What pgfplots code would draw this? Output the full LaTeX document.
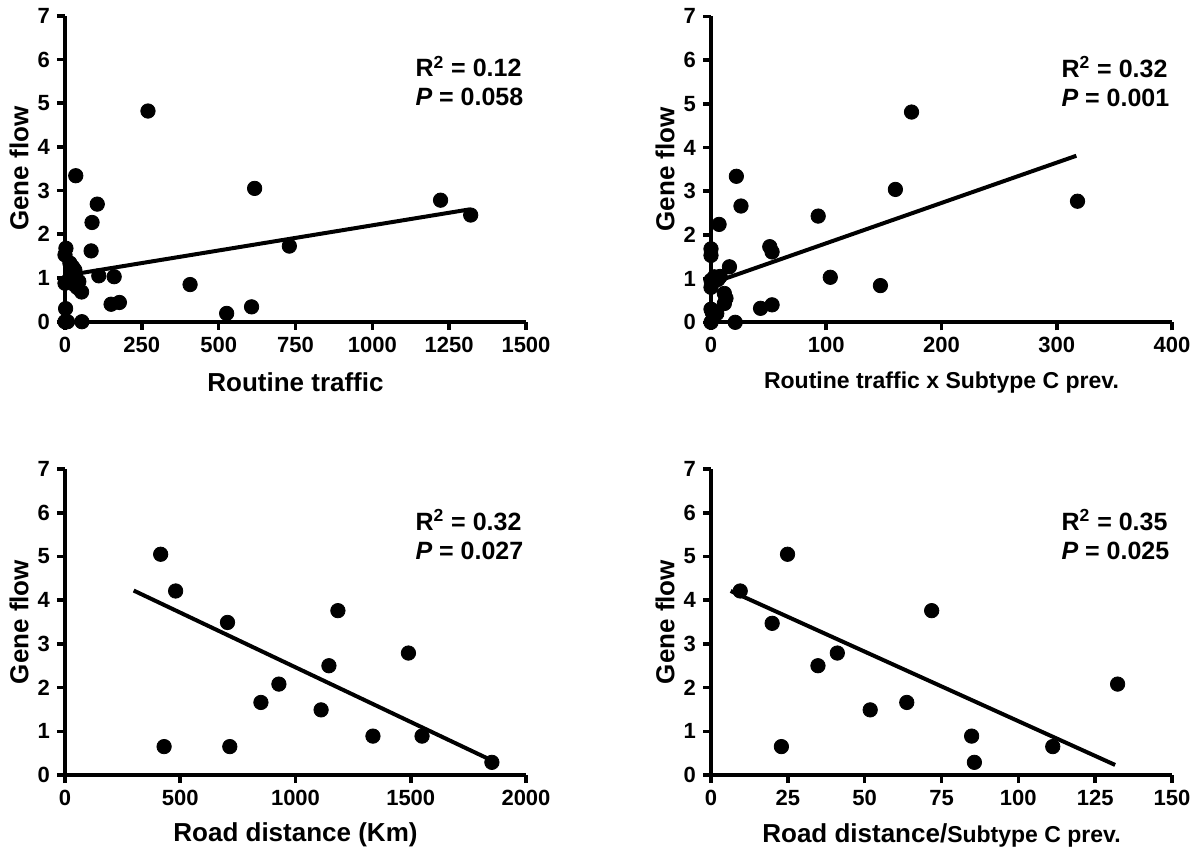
\documentclass[border=0pt]{standalone}
\usepackage{fontspec}
\setmainfont{Liberation Sans}
\usepackage{pgfplots}
\pgfplotsset{compat=1.18}

\newcommand{\lblfont}{\bfseries\fontsize{13}{15}\selectfont}
\newcommand{\smlfont}{\bfseries\fontsize{11.5}{13}\selectfont}

\pgfplotsset{
  gf/.style={
    scale only axis, width=230.5pt, height=153pt,
    anchor=south west,
    axis lines=left, axis line style={-, line width=2pt, black},
    xmin=0, ymin=0, ymax=7, ytick={0,...,7},
    enlargelimits=false, clip=false,
    tick align=outside, major tick length=4pt,
    tick style={line width=1.8pt, black},
    ticklabel style={font=\bfseries\fontsize{11}{12}\selectfont},
    /pgf/number format/assume math mode=true,
    /pgf/number format/1000 sep={},
    scaled ticks=false,
    ylabel={Gene flow},
    every axis y label/.style={at={(axis description cs:0,0.5)}, xshift=-23pt,
      rotate=90, anchor=center, font=\lblfont},
    every axis x label/.style={at={(axis description cs:0.5,0)}, yshift=-30pt,
      anchor=center, font=\lblfont},
  },
  pts/.style={only marks, mark=*, mark size=3.6pt, black},
  fit/.style={no marks, black, line width=2pt},
}

\newcommand{\stats}[2]{%
  \node[anchor=base west, font=\bfseries\fontsize{12.5}{14}\selectfont] at (rel axis cs:0.745,0.80) {R\textsuperscript{2} = #1};
  \node[anchor=base west, font=\bfseries\fontsize{12.5}{14}\selectfont] at (rel axis cs:0.745,0.705) {\textit{P} = #2};
}

\begin{document}
\begin{tikzpicture}
\useasboundingbox (0,0) rectangle (597.5pt,-424pt);

% top left
\begin{axis}[gf, at={(32.5pt,-160.85pt)}, xmax=1500, xtick={0,250,...,1500},
  xlabel={Routine traffic}]
  \addplot[pts] coordinates {
    (270,4.82) (35,3.34) (617,3.05) (1222,2.78) (1320,2.44) (105,2.69)
    (88,2.27) (85,1.62) (730,1.73) (3,1.68) (0,1.53) (16,1.34) (25,1.25)
    (32,1.18) (110,1.05) (160,1.03) (407,0.85) (11,0.95) (0,0.88) (45,0.92)
    (30,0.85) (54,0.68) (20,1.0) (150,0.40) (177,0.44) (607,0.34) (526,0.19)
    (55,0) (0,0) (8,0) (2,0.3) (40,0.78)
  };
  \addplot[fit] coordinates {(14,1.07) (1317,2.57)};
  \stats{0.12}{0.058}
\end{axis}

% top right
\begin{axis}[gf, at={(355.5pt,-161.15pt)}, xmax=400, xtick={0,100,...,400},
  xlabel={Routine traffic x Subtype C prev.}, xlabel style={font=\smlfont}]
  \addplot[pts] coordinates {
    (174,4.81) (22,3.34) (160,3.04) (318,2.77) (26,2.66) (93,2.43) (7,2.24)
    (51,1.73) (53,1.61) (0,1.68) (0,1.53) (16,1.27) (103.5,1.03) (147,0.84)
    (43,0.32) (53,0.40) (21,0) (11.6,0.66) (11.6,0.43) (0,0.96) (3,1.04)
    (6,0.98) (0,0.8) (1,0.23) (5,0.2) (0,0) (0,0.3) (8,1.05) (13,0.55)
  };
  \addplot[fit] coordinates {(1.5,0.90) (317,3.81)};
  \stats{0.32}{0.001}
\end{axis}

% bottom left
\begin{axis}[gf, at={(32.5pt,-387.5pt)}, xmax=2000, xtick={0,500,...,2000},
  xlabel={Road distance (Km)}]
  \addplot[pts] coordinates {
    (415,5.05) (480,4.21) (705,3.49) (1184,3.76) (1490,2.79) (1145,2.50)
    (928,2.08) (850,1.66) (1111,1.49) (1336,0.89) (1549,0.89) (430,0.65)
    (715,0.65) (1852,0.29)
  };
  \addplot[fit] coordinates {(298,4.22) (1837,0.37)};
  \stats{0.32}{0.027}
\end{axis}

% bottom right
\begin{axis}[gf, at={(355.5pt,-387.5pt)}, xmax=150, xtick={0,25,...,150},
  xlabel={Road distance/{\smlfont Subtype C prev.}}]
  \addplot[pts] coordinates {
    (24.9,5.05) (9.5,4.21) (19.9,3.47) (71.8,3.76) (41.1,2.79) (34.8,2.50)
    (132.3,2.08) (63.7,1.66) (51.8,1.49) (84.8,0.89) (85.7,0.29) (22.9,0.65)
    (111.2,0.65)
  };
  \addplot[fit] coordinates {(6.4,4.21) (131.5,0.23)};
  \stats{0.35}{0.025}
\end{axis}
\end{tikzpicture}
\end{document}
